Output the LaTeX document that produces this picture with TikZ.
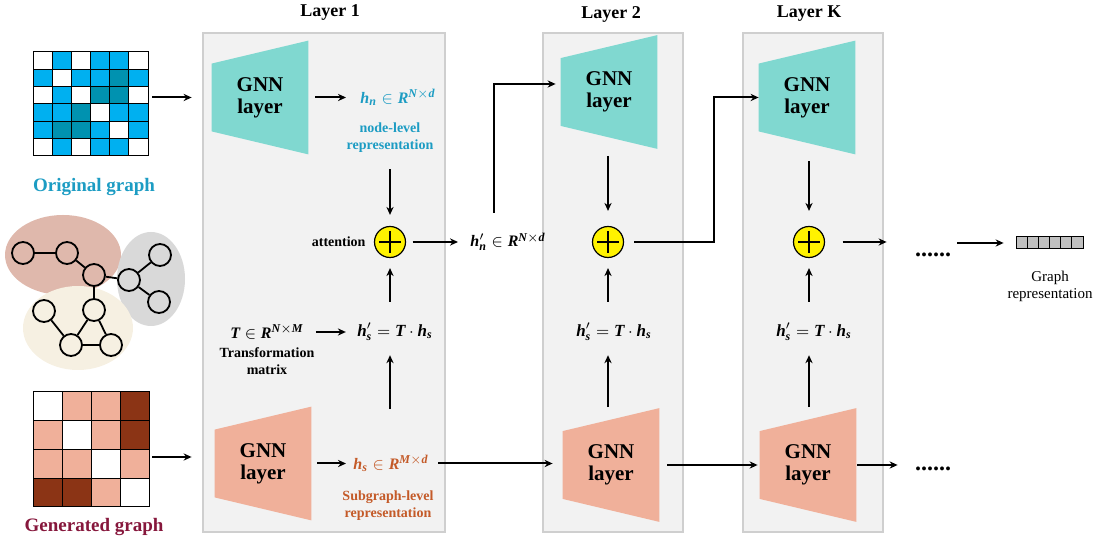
\documentclass[tikz,border=0pt]{standalone}
\usepackage{fontspec}
\setmainfont{Liberation Serif}
\usepackage{amsmath}
\usetikzlibrary{arrows.meta,positioning,backgrounds}

\definecolor{tealfill}{HTML}{80D8D0}
\definecolor{salmonfill}{HTML}{F0B09A}
\definecolor{panelfill}{HTML}{F2F2F2}
\definecolor{paneldraw}{HTML}{CFCFCF}
\definecolor{nodeblue}{HTML}{1C9CC3}
\definecolor{subbrown}{HTML}{C45A28}
\definecolor{genred}{HTML}{86173C}
\definecolor{ocell0}{HTML}{FFFFFF}
\definecolor{ocell1}{HTML}{00B0F0}
\definecolor{ocell2}{HTML}{0092B0}
\definecolor{gcell0}{HTML}{FFFFFF}
\definecolor{gcell1}{HTML}{F0B09A}
\definecolor{gcell2}{HTML}{8B3415}
\definecolor{blobpink}{HTML}{DFB8AC}
\definecolor{blobgrey}{HTML}{D9D9D9}
\definecolor{blobcream}{HTML}{F6F0E2}
\definecolor{barcell}{HTML}{C0C0C0}

% bold italic symbol in the text font
\newcommand{\bv}[1]{\text{\bfseries\itshape #1}}

\begin{document}
\begin{tikzpicture}[
  x=0.5pt, y=-0.5pt,
  font=\bfseries,
  panel/.style={draw=paneldraw, fill=panelfill, line width=0.8pt, inner sep=0pt},
  layertitle/.style={font=\bfseries\fontsize{9}{10}\selectfont},
  gnn/.style={minimum width=48pt, minimum height=56.5pt, inner sep=0pt, align=center,
    font=\bfseries\fontsize{10.5}{11}\selectfont},
  lbl/.style={inner sep=0pt, align=center, font=\bfseries\fontsize{7}{8.5}\selectfont},
  eq/.style={inner sep=0pt, font=\fontsize{8}{9}\selectfont},
  eqbig/.style={inner sep=0pt, font=\fontsize{8.5}{10}\selectfont},
  addop/.style={circle, draw, fill=yellow, line width=0.6pt, minimum size=15.5pt, inner sep=0pt},
  gnode/.style={circle, draw, line width=0.9pt, minimum size=11pt, inner sep=0pt},
  graphedge/.style={line width=0.9pt},
  gridcell/.style={draw, line width=0.5pt},
  dotrow/.style={inner sep=0pt, font=\bfseries\fontsize{12}{12}\selectfont},
  pointer/.style={draw, -{Stealth[length=4pt, width=3.6pt]}, line width=1pt}
]
\useasboundingbox (0,0) rectangle (1102,544);

% Panels
\begin{scope}[on background layer]
\node[panel, minimum width=121pt, minimum height=249.5pt] (box1) at (324,282.5) {};
\node[panel, minimum width=70pt, minimum height=249.5pt] (box2) at (613,282.5) {};
\node[panel, minimum width=70pt, minimum height=249.5pt] (boxK) at (813,282.5) {};
\end{scope}
\node[layertitle] (t1) at (330,13) {Layer 1};
\node[layertitle] (t2) at (611,14) {Layer 2};
\node[layertitle] (tK) at (809,14) {Layer K};

% Original graph
\foreach \row [count=\r from 0] in {{0,1,0,1,1,0},{1,0,1,1,2,1},{0,1,0,2,2,0},{1,1,2,0,1,1},{1,2,2,1,0,1},{0,1,0,1,1,0}}
  \foreach \v [count=\c from 0] in \row
    \draw[gridcell, fill=ocell\v] (33+\c*19.17,52+\r*17.33) rectangle ++(19.17,17.33);
\node[font=\bfseries\fontsize{9.5}{10}\selectfont, text=nodeblue] (olbl) at (94,187) {Original graph};
\coordinate (og) at (152,97.5);

% Subgraphs
\fill[blobpink] (63,255) ellipse [x radius=58, y radius=40];
\fill[blobgrey] (151,279) ellipse [x radius=34, y radius=47];
\fill[blobcream] (78,328) ellipse [x radius=55, y radius=42];
\node[gnode] (v1) at (23,253) {};
\node[gnode] (v2) at (67,253) {};
\node[gnode] (v3) at (94,275) {};
\node[gnode] (v4) at (129,280) {};
\node[gnode] (v5) at (160,255) {};
\node[gnode] (v6) at (159,302) {};
\node[gnode] (v7) at (94,310) {};
\node[gnode] (v8) at (44,311) {};
\node[gnode] (v9) at (71,345) {};
\node[gnode] (v10) at (111,345) {};
\foreach \a/\b in {v1/v2, v2/v3, v3/v4, v4/v5, v4/v6, v3/v7, v8/v9, v7/v9, v7/v10, v9/v10}
  \draw[graphedge] (\a) -- (\b);

% Generated graph
\foreach \row [count=\r from 0] in {{0,1,1,2},{1,0,1,2},{1,1,0,1},{2,2,1,0}}
  \foreach \v [count=\c from 0] in \row
    \draw[gridcell, fill=gcell\v] (33+\c*29,392+\r*28.75) rectangle ++(29,28.75);
\node[font=\bfseries\fontsize{9.5}{10}\selectfont, text=genred] (glbl) at (94,527) {Generated graph};
\coordinate (gg) at (152,457);

% GNN layers
\node[gnn] (gA1) at (260,97.5) {GNN\\layer};
\node[gnn] (gA2) at (609,92) {GNN\\layer};
\node[gnn] (gAK) at (807,97.5) {GNN\\layer};
\node[gnn] (gB1) at (263,463.5) {GNN\\layer};
\node[gnn] (gB2) at (611,465) {GNN\\layer};
\node[gnn] (gBK) at (808,465) {GNN\\layer};
\begin{scope}[on background layer]
\foreach \g/\c in {gA1/tealfill, gA2/tealfill, gAK/tealfill, gB1/salmonfill, gB2/salmonfill, gBK/salmonfill}
  \fill[\c] (\g.north east) -- (\g.south east) -- ([yshift=11.5pt]\g.south west)
    -- ([yshift=-11.5pt]\g.north west) -- cycle;
\end{scope}

% Attention
\node[addop] (att1) at (390,242) {};
\node[addop] (att2) at (608,242) {};
\node[addop] (attK) at (809,242) {};
\foreach \a in {att1, att2, attK} {
  \draw[line width=1.4pt] ([xshift=-5.5pt]\a.center) -- ([xshift=5.5pt]\a.center);
  \draw[line width=1.4pt] ([yshift=-5.5pt]\a.center) -- ([yshift=5.5pt]\a.center);
}
\node[lbl, left=4pt of att1] (attl) {attention};

% Representations
\node[eq, text=nodeblue, anchor=west] (hn1) at (360,97.5) {$\bv{h}_{\bv{n}}\in\bv{R}^{\bv{N}\times\bv{d}}$};
\node[lbl, text=nodeblue] (nl1) at (390,138) {node-level\\representation};
\node[eq, anchor=west] (hnp) at (470,242) {$\bv{h}'_{\bv{n}}\in\bv{R}^{\bv{N}\times\bv{d}}$};
\node[eq] (tm) at (267,332) {$\bv{T}\in\bv{R}^{\bv{N}\times\bv{M}}$};
\node[lbl] (tmd) at (267,361) {Transformation\\matrix};
\node[eqbig] (hsp1) at (395,332) {$\bv{h}'_{\bv{s}}=\bv{T}\cdot\bv{h}_{\bv{s}}$};
\node[eqbig] (hsp2) at (614,332) {$\bv{h}'_{\bv{s}}=\bv{T}\cdot\bv{h}_{\bv{s}}$};
\node[eqbig] (hspK) at (814,332) {$\bv{h}'_{\bv{s}}=\bv{T}\cdot\bv{h}_{\bv{s}}$};
\node[eq, text=subbrown, anchor=west] (hs1) at (353,463.5) {$\bv{h}_{\bv{s}}\in\bv{R}^{\bv{M}\times\bv{d}}$};
\node[lbl, text=subbrown] (sl1) at (388,506) {Subgraph-level\\representation};

% Output
\node[dotrow] (dtop) at (933,255) {......};
\node[dotrow] (dbot) at (933,469) {......};
\node[inner sep=0pt, minimum width=33.5pt, minimum height=6pt] (grep) at (1049.5,243) {};
\foreach \i in {0,...,5}
  \draw[gridcell, fill=barcell] (1016+\i*11.17,237) rectangle ++(11.17,12);
\node[lbl, font=\normalfont\fontsize{7.5}{8.5}\selectfont] (grepl) at (1050,286) {Graph\\representation};

% Arrows
\draw[pointer, shorten >=10pt] (og) -- (gA1.west);
\draw[pointer, shorten >=11.5pt] (gg) -- (gg -| gB1.west);
\draw[pointer, shorten <=3.5pt, shorten >=7pt] (gA1.east) -- (hn1.west);
\draw[pointer, shorten <=8pt, shorten >=5.5pt] (nl1.south) -- (att1.north);
\draw[pointer, shorten <=3.25pt, shorten >=6pt] (att1.east) -- (hnp.west);
\draw[pointer, shorten <=10pt, shorten >=2.5pt] ([xshift=-7pt]hnp.north) |- ([yshift=4pt]gA2.west);
\draw[pointer, shorten <=6pt, shorten >=5.5pt] (tm.east) -- (hsp1.west);
\draw[pointer, shorten <=23pt, shorten >=7pt] (hs1.north -| att1) -- (hsp1.south -| att1);
\draw[pointer, shorten <=10.5pt, shorten >=5pt] (hsp1.north -| att1) -- (att1.south);
\draw[pointer, shorten <=3pt, shorten >=3.5pt] (gB1.east) -- (hs1.west);
\draw[pointer, shorten <=4.5pt, shorten >=5pt] (hs1.east) -- (hs1.east -| gB2.west);

\draw[pointer, shorten <=3.5pt, shorten >=7.5pt] (gA2.south -| att2) -- (att2.north);
\draw[pointer, shorten <=0.5pt, shorten >=7pt] (gB2.north -| att2) -- (hsp2.south -| att2);
\draw[pointer, shorten <=10.5pt, shorten >=5pt] (hsp2.north -| att2) -- (att2.south);
\draw[pointer, shorten <=5pt] (att2.east) -| ([xshift=-22.5pt]gAK.west) -- (gAK.west);
\draw[pointer, shorten <=4pt, shorten >=1pt] (gB2.east) -- (gB2.east -| gBK.west);

\draw[pointer, shorten <=3.5pt, shorten >=7.5pt] (gAK.south -| attK) -- (attK.north);
\draw[pointer, shorten <=0.5pt, shorten >=7pt] (gBK.north -| attK) -- (hspK.south -| attK);
\draw[pointer, shorten <=10.5pt, shorten >=5pt] (hspK.north -| attK) -- (attK.south);
\draw[pointer, shorten <=8.75pt, shorten >=14pt] (attK.east) -- (attK.east -| dtop.west);
\draw[pointer, shorten <=0.5pt, shorten >=8.5pt] (gBK.east) -- (gBK.east -| dbot.west);
\draw[pointer, shorten <=3pt, shorten >=6pt] (dtop.east |- grep.west) -- (grep.west);

\end{tikzpicture}
\end{document}
